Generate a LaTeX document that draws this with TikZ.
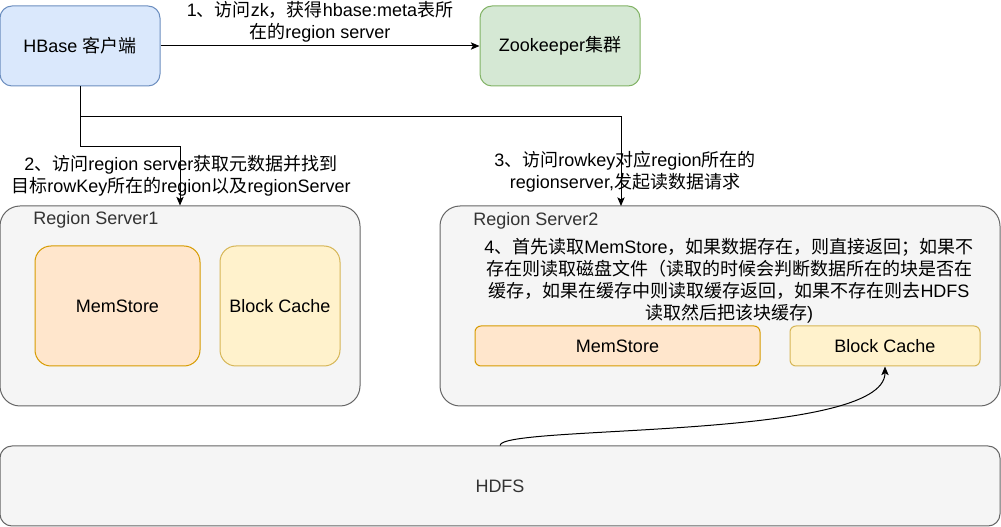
\documentclass[tikz,border=0pt]{standalone}
\usepackage{fontspec}
\setmainfont{Liberation Sans}
\newfontfamily\cjkfont{Noto Sans CJK SC}
\newfontfamily\latfont{Liberation Sans}
\usetikzlibrary{arrows.meta}
\XeTeXinterchartokenstate=1
\newXeTeXintercharclass\CJKcls
\newcount\cjkc
\cjkc="4E00
\loop \XeTeXcharclass\cjkc=\CJKcls \ifnum\cjkc<"9FFF \advance\cjkc by 1 \repeat
\cjkc="3000
\loop \XeTeXcharclass\cjkc=\CJKcls \ifnum\cjkc<"303F \advance\cjkc by 1 \repeat
\cjkc="FF00
\loop \XeTeXcharclass\cjkc=\CJKcls \ifnum\cjkc<"FFEF \advance\cjkc by 1 \repeat
\XeTeXinterchartoks 0 \CJKcls={\cjkfont}
\XeTeXinterchartoks 4095 \CJKcls={\cjkfont}
\XeTeXinterchartoks \CJKcls 0={\latfont}
\XeTeXinterchartoks \CJKcls 4095={\latfont}
\definecolor{cfill}{HTML}{DAE8FC}\definecolor{cdraw}{HTML}{6C8EBF}
\definecolor{zfill}{HTML}{D5E8D4}\definecolor{zdraw}{HTML}{82B366}
\definecolor{gfill}{HTML}{F5F5F5}\definecolor{gdraw}{HTML}{666666}
\definecolor{mfill}{HTML}{FFE6CC}\definecolor{mdraw}{HTML}{D79B00}
\definecolor{bfill}{HTML}{FFF2CC}\definecolor{bdraw}{HTML}{D6B656}
\definecolor{gtext}{HTML}{333333}
\tikzset{
  box/.style={draw, line width=0.75pt, rounded corners=#1, inner sep=0pt, align=center},
  box/.default=9pt,
  lbl/.style={inner sep=0pt, align=center},
  arr/.style={line width=0.75pt, -{Stealth[length=6.5pt,width=5.5pt,inset=1.5pt]}},
}
\begin{document}
\begin{tikzpicture}[x=0.75pt,y=-0.75pt,font=\fontsize{13.5}{16.5}\selectfont]
\useasboundingbox (0,0) rectangle (1001,527);
% top boxes
\node[box=9pt, fill=cfill, draw=cdraw, minimum width=120pt, minimum height=60pt] (client) at (80,46) {HBase 客户端};
\node[box=9pt, fill=zfill, draw=zdraw, minimum width=120pt, minimum height=60pt] (zk) at (560,46) {Zookeeper集群};
% region servers
\node[box=15pt, fill=gfill, draw=gdraw, minimum width=270pt, minimum height=150pt] (rs1) at (180,306) {};
\node[box=15pt, fill=gfill, draw=gdraw, minimum width=420pt, minimum height=150pt] (rs2) at (720,306) {};
\node[lbl, anchor=west, text=gtext] (rs1lbl) at (33,220) {Region Server1};
\node[lbl, anchor=west, text=gtext] (rs2lbl) at (473,221) {Region Server2};
\node[box=12pt, fill=mfill, draw=mdraw, minimum width=123.75pt, minimum height=90pt] (ms1) at (117.5,306) {MemStore};
\node[box=12pt, fill=bfill, draw=bdraw, minimum width=90pt, minimum height=90pt] (bc1) at (280,306) {Block Cache};
\node[box=4.5pt, fill=mfill, draw=mdraw, minimum width=213.75pt, minimum height=30pt] (ms2) at (617.5,346) {MemStore};
\node[box=4.5pt, fill=bfill, draw=bdraw, minimum width=142.5pt, minimum height=30pt] (bc2) at (885,346) {Block Cache};
\node[lbl] (l4) at (729,280.5) {4、首先读取MemStore，如果数据存在，则直接返回；如果不\\存在则读取磁盘文件（读取的时候会判断数据所在的块是否在\\缓存，如果在缓存中则读取缓存返回，如果不存在则去HDFS\\读取然后把该块缓存)};
% HDFS
\node[box=9pt, fill=gfill, draw=gdraw, text=gtext, minimum width=750pt, minimum height=60pt] (hdfs) at (500,486) {HDFS};
% labels
\node[lbl] (l1) at (320,21.5) {1、访问zk，获得hbase:meta表所\\在的region server};
\node[lbl] (l2) at (181,175.5) {2、访问region server获取元数据并找到\\目标rowKey所在的region以及regionServer};
\node[lbl] (l3) at (625,172) {3、访问rowkey对应region所在的\\regionserver,发起读数据请求};
% connectors
\coordinate (rs2in) at (621,206);
\draw[arr] (client) -- (zk);
\draw[arr] (client.south) -- ++(0,60) -| (rs1.north);
\draw[arr] (client.south) -- ++(0,30) -| (rs2in);
\draw[arr] (hdfs.north) .. controls ++(0,-21) and ++(0,74) .. (bc2.south);
\end{tikzpicture}
\end{document}
